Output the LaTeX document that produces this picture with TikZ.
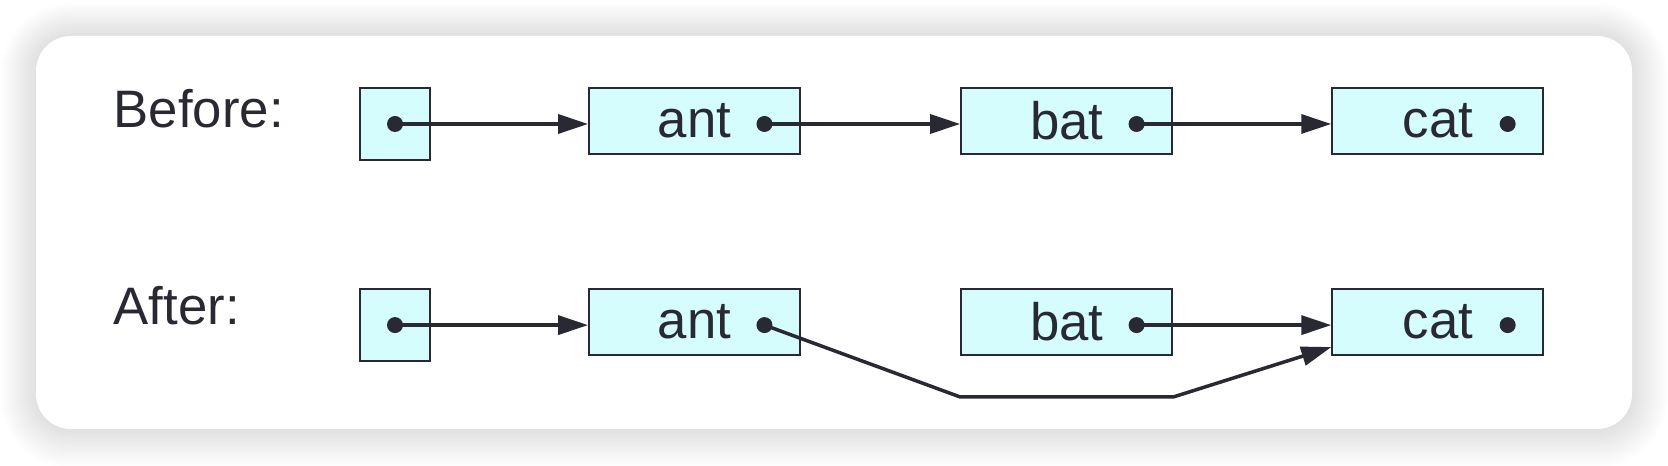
\documentclass[tikz,border=0pt]{standalone}
\usepackage{fontspec}
\setmainfont{Liberation Sans}
\usetikzlibrary{positioning,arrows.meta}
\definecolor{myink}{RGB}{41,41,51}
\definecolor{mycyan}{RGB}{214,253,253}

\begin{document}
\begin{tikzpicture}[
  every node/.style={text=myink,font=\fontsize{15}{18}\selectfont},
  headbox/.style={draw=myink,fill=mycyan,line width=0.6pt,minimum width=0.70cm,minimum height=0.72cm,inner sep=0pt},
  databox/.style={draw=myink,fill=mycyan,line width=0.6pt,minimum width=2.11cm,minimum height=0.66cm,inner sep=0pt},
  ptr/.style={circle,fill=myink,inner sep=0pt,minimum size=0.16cm},
  link/.style={draw=myink,line width=1pt,-{Triangle[length=0.30cm,width=0.19cm]}}
]
\useasboundingbox (0,0) rectangle (16.68,-4.66);

% the card and its shadow
\foreach \i in {1,...,30}
  \fill[black,opacity=0.0038,rounded corners={0.35cm+\i*0.012cm}]
    (0.36-\i*0.012,-0.36+\i*0.011) rectangle (16.32+\i*0.012,-4.29-\i*0.013);
\fill[white,rounded corners=0.35cm] (0.36,-0.36) rectangle (16.32,-4.29);

% the labels
\node[anchor=base west,inner sep=0pt] (before) at (1.13,-1.28) {Before:};
\node[anchor=base west,inner sep=0pt] (after) at (1.13,-3.25) {After:};

% the list before
\node[headbox] (h1) at (3.95,-1.24) {};
\node[databox,right=1.57cm of h1.north east,anchor=north west] (a1) {ant};
\node[databox,right=1.59cm of a1] (b1) {bat};
\node[databox,right=1.58cm of b1] (c1) {cat};

% the list after
\node[headbox,below=1.27cm of h1] (h2) {};
\node[databox,right=1.57cm of h2.north east,anchor=north west] (a2) {ant};
\node[databox,right=1.59cm of a2] (b2) {bat};
\node[databox,right=1.58cm of b2] (c2) {cat};

% the pointers
\foreach \r in {1,2} {
  \node[ptr] (hp\r) at (h\r) {};
  \node[ptr,left=0.28cm of a\r.east,yshift=-0.03cm] (ap\r) {};
  \node[ptr,left=0.28cm of b\r.east,yshift=-0.03cm] (bp\r) {};
  \node[ptr,left=0.28cm of c\r.east,yshift=-0.03cm] (cp\r) {};
}

% the detour
\coordinate (dl) at (b2.west |- 0,-3.97);
\coordinate (dr) at (b2.east |- 0,-3.97);
\coordinate (ce) at ([yshift=-0.25cm]c2.west);

% the edges
\draw[link] (hp1.center) -- (hp1.center -| a1.west);
\draw[link] (ap1.center) -- (ap1.center -| b1.west);
\draw[link] (bp1.center) -- (bp1.center -| c1.west);
\draw[link] (hp2.center) -- (hp2.center -| a2.west);
\draw[link] (ap2.center) -- (dl) -- (dr) -- (ce);
\draw[link] (bp2.center) -- (bp2.center -| c2.west);
\end{tikzpicture}
\end{document}
